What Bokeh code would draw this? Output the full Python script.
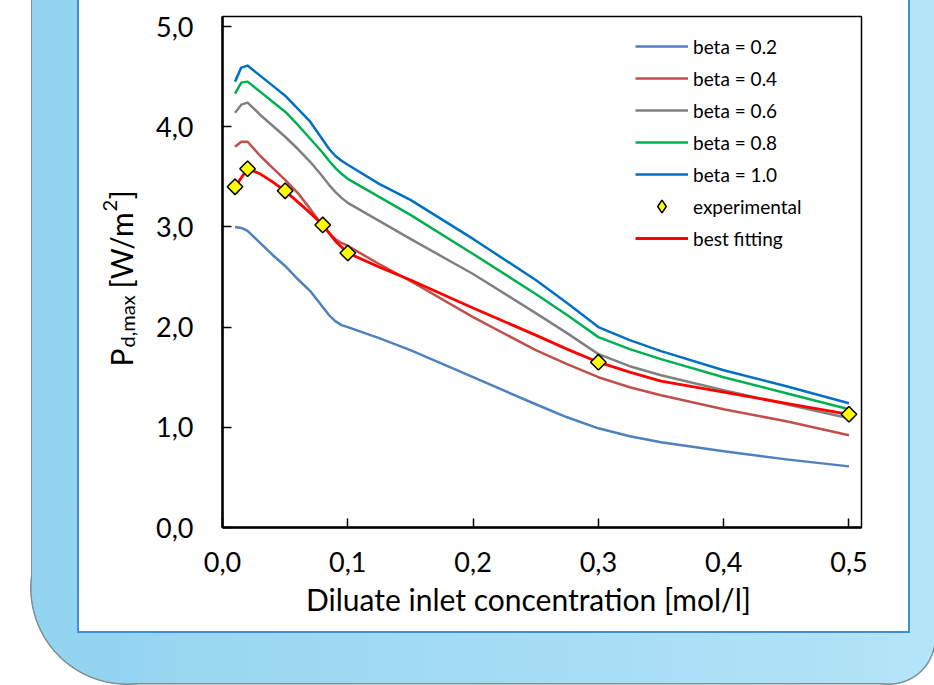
import math
from bokeh.plotting import figure
from bokeh.models import (FixedTicker, Legend, LegendItem, Label, Range1d,
                          CustomJSTickFormatter)
from bokeh.embed import file_html
from bokeh.resources import INLINE

# ---------------- data ----------------
conc = [0.01, 0.015, 0.02, 0.03, 0.04, 0.05, 0.06, 0.07, 0.08, 0.085, 0.09, 0.095,
        0.1, 0.125, 0.15, 0.2, 0.25, 0.275, 0.3, 0.325, 0.35, 0.4, 0.45, 0.5]
beta_02 = [3.00, 2.99, 2.96, 2.84, 2.72, 2.61, 2.48, 2.36, 2.20, 2.12, 2.06, 2.02,
           2.00, 1.89, 1.77, 1.50, 1.23, 1.10, 0.99, 0.91, 0.85, 0.76, 0.68, 0.61]
beta_04 = [3.80, 3.85, 3.85, 3.71, 3.59, 3.47, 3.34, 3.18, 3.01, 2.94, 2.88, 2.84,
           2.81, 2.63, 2.46, 2.10, 1.77, 1.63, 1.50, 1.40, 1.32, 1.18, 1.06, 0.92]
beta_06 = [4.14, 4.22, 4.24, 4.12, 4.01, 3.90, 3.78, 3.65, 3.50, 3.42, 3.35, 3.29,
           3.24, 3.06, 2.88, 2.53, 2.14, 1.94, 1.73, 1.61, 1.52, 1.37, 1.23, 1.09]
beta_08 = [4.33, 4.44, 4.45, 4.35, 4.25, 4.15, 4.02, 3.88, 3.74, 3.66, 3.59, 3.53,
           3.48, 3.30, 3.12, 2.73, 2.33, 2.12, 1.90, 1.78, 1.68, 1.50, 1.34, 1.18]
beta_10 = [4.45, 4.59, 4.61, 4.51, 4.41, 4.31, 4.18, 4.05, 3.87, 3.78, 3.71, 3.66,
           3.62, 3.43, 3.27, 2.88, 2.47, 2.24, 2.00, 1.87, 1.76, 1.57, 1.41, 1.24]

fit_conc = [0.01, 0.02, 0.03, 0.04, 0.05, 0.06, 0.07, 0.08, 0.09, 0.1, 0.125, 0.15,
            0.2, 0.25, 0.275, 0.3, 0.325, 0.35, 0.4, 0.45, 0.5]
fit_vals = [3.40, 3.58, 3.53, 3.45, 3.36, 3.25, 3.14, 3.02, 2.86, 2.74, 2.60, 2.47,
            2.19, 1.92, 1.78, 1.65, 1.55, 1.46, 1.35, 1.24, 1.13]

exp_conc = [0.01, 0.02, 0.05, 0.08, 0.1, 0.3, 0.5]
exp_vals = [3.40, 3.58, 3.36, 3.02, 2.74, 1.65, 1.13]

series_labels = ["beta = 0.2", "beta = 0.4", "beta = 0.6", "beta = 0.8", "beta = 1.0"]
series_colors = ["#4F81BD", "#C0504D", "#808080", "#00B050", "#0070C0"]

x_ticks = [0.0, 0.1, 0.2, 0.3, 0.4, 0.5]
y_ticks = [0, 1, 2, 3, 4, 5]
x_title = "Diluate inlet concentration [mol/l]"

# ---------------- layout ----------------
W, H = 934, 685
FL, FR, FT, FB = 222, 73, 16, 158          # frame borders (px)
XMAX, YMAX = 0.51, 5.1
FONT = "Lato"

# ---- page decoration (CSS background layers): light-blue rounded panel + white card ----
PL, PB, PR = 32, 683, 934           # panel left / bottom / right
R1, R2 = 95, 45                     # bottom-left / bottom-right radii
CL, CR, CB = 78, 909, 632           # card border centre lines
EDGE, CARD_LINE = "#7f9097", "#3C8ED6"
C_LEFT, C_RIGHT = (146, 211, 240), (180, 228, 247)


def blue_at(x):
    t = min(max((x - PL) / (PR - PL), 0.0), 1.0)
    r, g, b = (round(a + (c - a) * t) for a, c in zip(C_LEFT, C_RIGHT))
    return f"rgb({r},{g},{b})"


def rect(color, x, y, w, h):
    return f"linear-gradient({color},{color}) {x}px {y}px / {w}px {h}px no-repeat"


def grad_rect(x, y, w, h):
    return (f"linear-gradient(to right, {blue_at(x)}, {blue_at(x + w)}) "
            f"{x}px {y}px / {w}px {h}px no-repeat")


def disk(color, cx, cy, r):
    return (f"radial-gradient(circle at {cx}px {cy}px, {color} {r}px, rgba(0,0,0,0) {r + 0.8}px) "
            f"0px 0px / 100% 100% no-repeat")


layers = [
    rect("#FFFFFF", CL + 1, 0, CR - CL - 2, CB - 1),           # card interior
    rect(CARD_LINE, CL - 1, 0, CR - CL + 2, CB + 1),           # card border
    grad_rect(PL, 0, PR - PL, PB - R1),                        # panel body
    grad_rect(PL + R1, PB - R1, PR - R2 - PL - R1, R1),
    grad_rect(PR - R2, 0, R2, PB - R2),
    disk(blue_at(PL + R1 / 3), PL + R1, PB - R1, R1),          # rounded corners
    disk(blue_at(PR - R2 / 3), PR - R2, PB - R2, R2),
    rect(EDGE, PL - 1.5, 0, PR - PL, PB - R1),                 # thin shadow edge
    disk(EDGE, PL + R1, PB - R1, R1 + 1.5),
    rect(EDGE, PL + R1, PB - R1, PR - R2 - PL - R1, R1 + 1.5),
    disk(EDGE, PR - R2, PB - R2, R2 + 1.5),
]
page_css = {"background": ", ".join(layers) + ", #FFFFFF"}

p = figure(width=W, height=H, output_backend="svg", toolbar_location=None,
           x_range=Range1d(0, XMAX), y_range=Range1d(0, YMAX),
           min_border_left=FL, min_border_right=FR,
           min_border_top=FT, min_border_bottom=FB)
p.styles = page_css
p.background_fill_color = None
p.border_fill_color = None
p.outline_line_color = "black"
p.outline_line_width = 1.5
p.grid.visible = False

fmt = CustomJSTickFormatter(code="return tick.toFixed(1).replace('.', ',');")
for ax in (p.xaxis[0], p.yaxis[0]):
    ax.formatter = fmt
    ax.major_tick_in = 9
    ax.major_tick_out = 0
    ax.minor_tick_line_color = None
    ax.major_tick_line_width = 1.5
    ax.major_tick_line_color = "black"
    ax.axis_line_width = 2.5
    ax.axis_line_color = "black"
    ax.major_label_text_font = FONT
    ax.major_label_text_font_size = "27px"
    ax.major_label_text_color = "black"

p.xaxis[0].ticker = FixedTicker(ticks=x_ticks)
p.yaxis[0].ticker = FixedTicker(ticks=y_ticks)
p.xaxis[0].major_label_standoff = 24
p.yaxis[0].major_label_standoff = 29

# ---------------- marks ----------------
items = []
for vals, lab, col in zip([beta_02, beta_04, beta_06, beta_08, beta_10],
                          series_labels, series_colors):
    r = p.line(conc, vals, line_color=col, line_width=2.5, line_join="round")
    items.append(LegendItem(label=lab, renderers=[r]))

r_fit = p.line(fit_conc, fit_vals, line_color="#FF0000", line_width=2.8, line_join="round")
r_exp = p.scatter(exp_conc, exp_vals, marker="square", angle=math.pi / 4, size=11,
                  fill_color="#FFFF00", line_color="black", line_width=1.5)
# legend swatch for the experimental points (diamond symbol; its only point is NaN)
r_exp_key = p.scatter(x=[float("nan")], y=[float("nan")], marker="diamond", size=14,
                      fill_color="#FFFF00", line_color="black", line_width=1.5)
items.append(LegendItem(label="experimental", renderers=[r_exp_key]))
items.append(LegendItem(label="best fitting", renderers=[r_fit]))

leg = Legend(items=items, location=(413, 273), orientation="vertical",
             padding=0, margin=0, spacing=0, glyph_width=53, glyph_height=32,
             label_height=20, label_standoff=5, label_text_font=FONT,
             label_text_font_size="19px", label_text_color="black",
             border_line_color=None, background_fill_alpha=0)
p.add_layout(leg)

# ---------------- axis titles as canvas-positioned labels ----------------
p.add_layout(Label(x=528, y=598, x_units="canvas", y_units="canvas", text=x_title,
                   text_font=FONT, text_font_size="30px", text_color="black",
                   text_align="center", text_baseline="alphabetic"), "below")

pieces = [("P", 120, 366, "30px"),
          ("d,max", 126, 347, "20px"),
          ("[W/m", 120, 288, "30px"),
          ("2", 109, 211, "20px"),
          ("]", 120, 199, "30px")]
for txt, cx, cy, fs in pieces:
    p.add_layout(Label(x=cx, y=cy, x_units="canvas", y_units="canvas", text=txt,
                       angle=math.pi / 2, text_font=FONT, text_font_size=fs,
                       text_color="black", text_align="left",
                       text_baseline="alphabetic"), "left")

open("out.html", "w").write(file_html(p, INLINE))
